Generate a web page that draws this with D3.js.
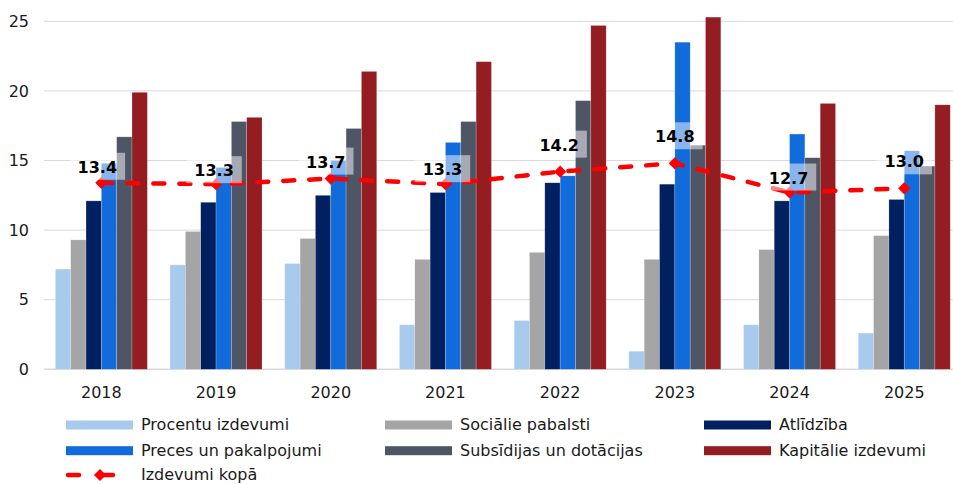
<!DOCTYPE html>
<html>
<head>
<meta charset="utf-8">
<script src="https://cdn.jsdelivr.net/npm/d3@7"></script>
<style>
    body { margin: 0; background: #fff; }
    svg text { font-family: "DejaVu Sans", Verdana, sans-serif; fill: #1a1a1a; }
</style>
</head>
<body>
<div id="chart"></div>
<script>
const years = ["2018", "2019", "2020", "2021", "2022", "2023", "2024", "2025"];
const seriesNames = [
    "Procentu izdevumi", "Sociālie pabalsti", "Atlīdzība",
    "Preces un pakalpojumi", "Subsīdijas un dotācijas", "Kapitālie izdevumi"
];
const interest = [7.2, 7.5, 7.6, 3.2, 3.5, 1.3, 3.2, 2.6];
const social = [9.3, 9.9, 9.4, 7.9, 8.4, 7.9, 8.6, 9.6];
const compensation = [12.1, 12.0, 12.5, 12.7, 13.4, 13.3, 12.1, 12.2];
const goods = [14.8, 14.5, 15.0, 16.3, 13.9, 23.5, 16.9, 15.7];
const subsidies = [16.7, 17.8, 17.3, 17.8, 19.3, 16.1, 15.2, 14.6];
const capital = [19.9, 18.1, 21.4, 22.1, 24.7, 25.3, 19.1, 19.0];
const totalSpending = [13.4, 13.3, 13.7, 13.3, 14.2, 14.8, 12.7, 13.0];
const yTicks = [0, 5, 10, 15, 20, 25];
const lineName = "Izdevumi kopā";

const barSeries = [interest, social, compensation, goods, subsidies, capital];
const colors = ["#a8caec", "#a5a5a5", "#002060", "#116bda", "#4e5565", "#931d21"];

// where each data label sits relative to its marker
const labelLift = [10, 8, 11, 9, 21, 21, 9, 21];
const labelShift = [-4, -2, -5, -3, -1, 0, -1, 0];

const width = 953, height = 484;
const svg = d3.select("#chart").append("svg")
    .attr("width", width)
    .attr("height", height);

const x0 = d3.scaleBand().domain(years).range([44, 961.6]).padding(0);
const gap = x0.bandwidth() * 0.099;
const x1 = d3.scaleBand().domain(seriesNames).range([gap, x0.bandwidth() - gap]);
const y = d3.scaleLinear().domain([0, 25]).range([369.3, 21.3]);

// grid
svg.append("g")
    .selectAll("line")
    .data(yTicks)
    .join("line")
    .attr("x1", 44)
    .attr("x2", width)
    .attr("y1", d => y(d))
    .attr("y2", d => y(d))
    .attr("stroke", "#d9d9d9")
    .attr("stroke-width", d => d === 0 ? 1.5 : 1);

svg.append("g")
    .selectAll("text")
    .data(yTicks)
    .join("text")
    .attr("x", 29)
    .attr("y", d => y(d))
    .attr("dy", "0.35em")
    .attr("text-anchor", "end")
    .style("font-size", "16px")
    .text(d => d);

svg.append("g")
    .selectAll("text")
    .data(years)
    .join("text")
    .attr("x", d => x0(d) + x0.bandwidth() / 2)
    .attr("y", 397.5)
    .attr("text-anchor", "middle")
    .style("font-size", "16px")
    .text(d => d);

// bars
const groups = svg.append("g")
    .selectAll("g")
    .data(years)
    .join("g")
    .attr("transform", d => `translate(${x0(d)},0)`);

groups.selectAll("rect")
    .data((yr, i) => seriesNames.map((name, s) => ({ name, s, value: barSeries[s][i] })))
    .join("rect")
    .attr("x", d => x1(d.name))
    .attr("width", x1.bandwidth())
    .attr("y", d => y(d.value))
    .attr("height", d => y(0) - y(d.value))
    .attr("fill", d => colors[d.s])
    .attr("stroke", "rgba(255,255,255,0.35)")
    .attr("stroke-width", 0.6);

// total line
const cx = d => x0(d) + x0.bandwidth() / 2;
const line = d3.line()
    .x((d, i) => cx(years[i]))
    .y(d => y(d));

svg.append("path")
    .datum(totalSpending)
    .attr("d", line)
    .attr("fill", "none")
    .attr("stroke", "#ff0000")
    .attr("stroke-width", 4.5)
    .attr("stroke-dasharray", "11,15")
    .attr("stroke-linecap", "round");

const diamond = d3.symbol().type(d3.symbolDiamond2).size(95);

svg.append("g")
    .selectAll("path")
    .data(totalSpending)
    .join("path")
    .attr("d", diamond)
    .attr("transform", (d, i) => `translate(${cx(years[i])},${y(d)})`)
    .attr("fill", "#ff0000");

// data labels with translucent boxes
const labels = svg.append("g")
    .selectAll("g")
    .data(totalSpending)
    .join("g");

labels.append("text")
    .attr("x", (d, i) => cx(years[i]) + labelShift[i])
    .attr("y", (d, i) => y(d) - labelLift[i])
    .attr("text-anchor", "middle")
    .style("font-size", "16px")
    .style("font-weight", "bold")
    .style("fill", "#000")
    .text(d => d.toFixed(1));

labels.each(function () {
    const g = d3.select(this);
    const b = g.select("text").node().getBBox();
    g.insert("rect", "text")
        .attr("x", b.x - 8)
        .attr("y", b.y - 5)
        .attr("width", b.width + 16)
        .attr("height", b.height + 8)
        .attr("fill", "#fff")
        .attr("fill-opacity", 0.5);
});

// legend
const legendCols = [66, 385, 704];
const legendRows = [425, 450.7, 475];

const legend = svg.append("g");
seriesNames.forEach((name, s) => {
    const lx = legendCols[s % 3];
    const ly = legendRows[Math.floor(s / 3)];
    legend.append("rect")
        .attr("x", lx)
        .attr("y", ly - 4.5)
        .attr("width", 67)
        .attr("height", 9)
        .attr("fill", colors[s]);
    legend.append("text")
        .attr("x", lx + 75)
        .attr("y", ly)
        .attr("dy", "0.34em")
        .style("font-size", "16px")
        .text(name);
});

const lly = legendRows[2];
legend.append("path")
    .attr("d", `M${legendCols[0] + 2},${lly}H${legendCols[0] + 65}`)
    .attr("stroke", "#ff0000")
    .attr("stroke-width", 4.5)
    .attr("stroke-linecap", "round")
    .attr("stroke-dasharray", "11,23");
legend.append("path")
    .attr("d", diamond)
    .attr("transform", `translate(${legendCols[0] + 34},${lly})`)
    .attr("fill", "#ff0000");
legend.append("text")
    .attr("x", legendCols[0] + 75)
    .attr("y", lly)
    .attr("dy", "0.3em")
    .style("font-size", "16px")
    .text(lineName);
</script>
</body>
</html>
